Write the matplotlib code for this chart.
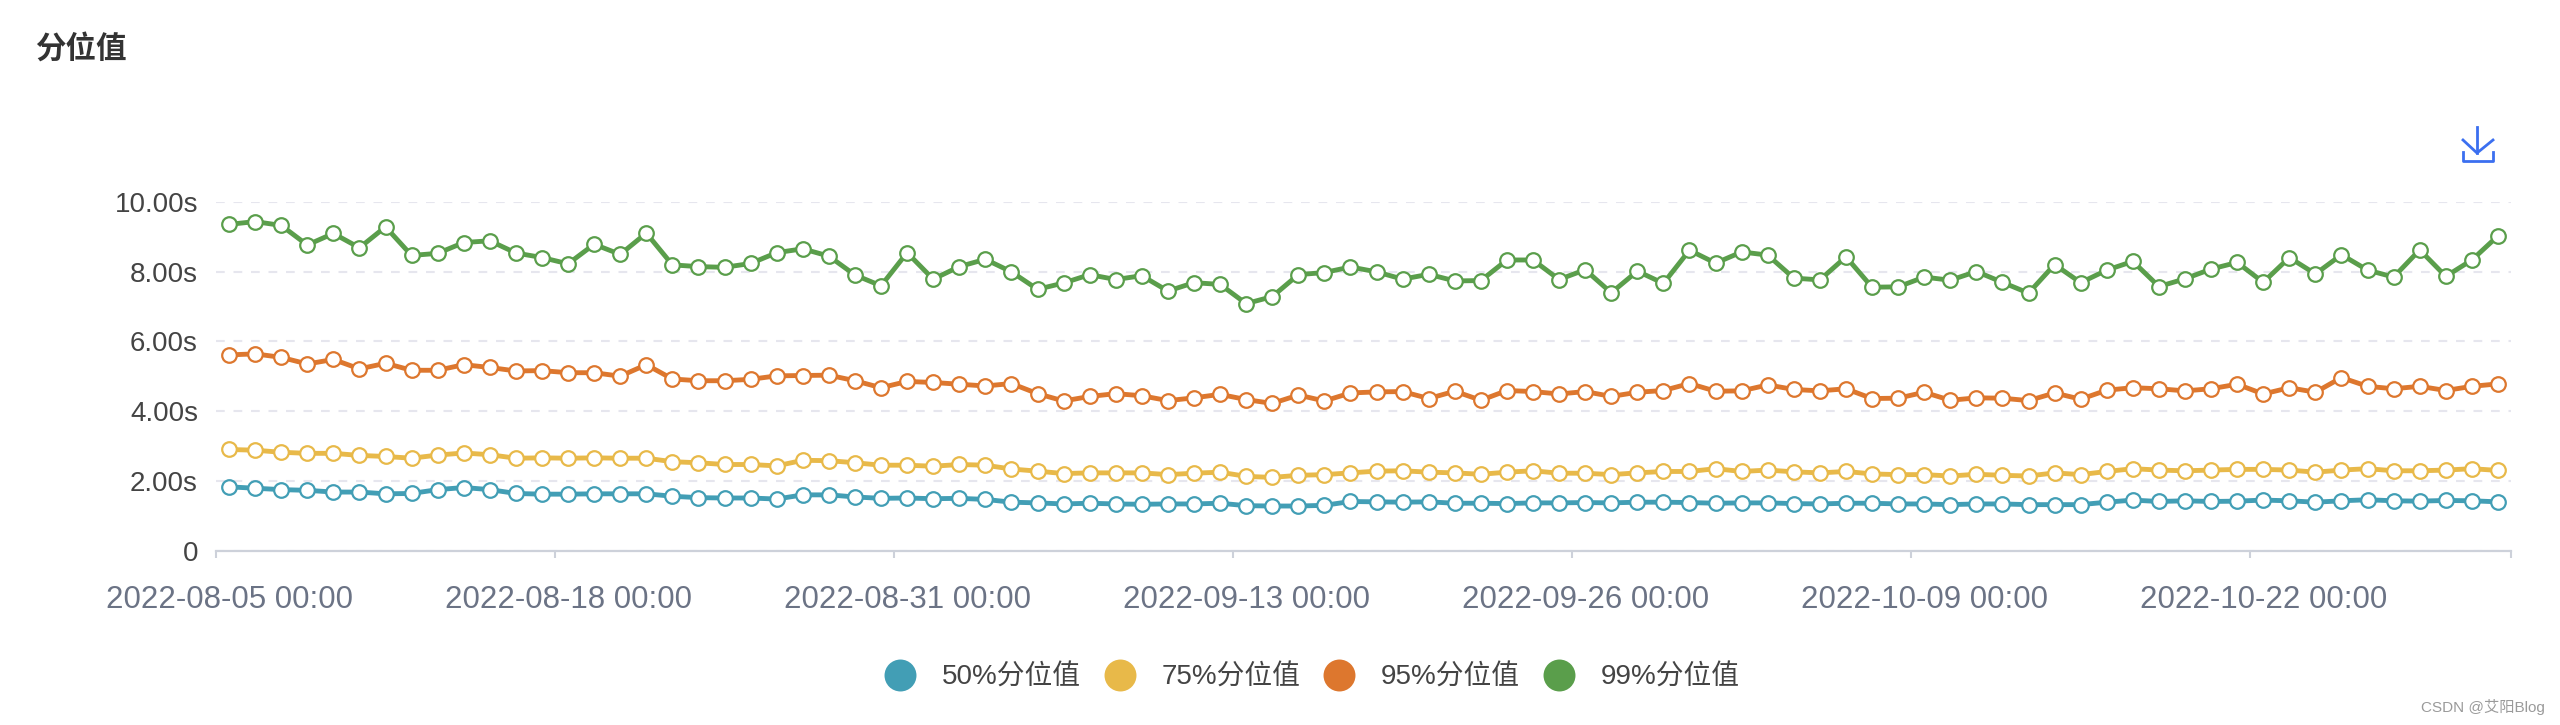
import matplotlib
matplotlib.use("Agg")
import matplotlib.pyplot as plt
import numpy as np
import pandas as pd
from matplotlib.lines import Line2D

plt.rcParams['font.family'] = ['Liberation Sans', 'Noto Sans CJK SC', 'DejaVu Sans']

# Data
dates = pd.date_range("2022-08-05", periods=88, freq="D")
series_names = ["50%分位值", "75%分位值", "95%分位值", "99%分位值"]
y_ticks = [0, 2, 4, 6, 8, 10]
y_labels = ["0", "2.00s", "4.00s", "6.00s", "8.00s", "10.00s"]

p50 = [1.83, 1.79, 1.75, 1.73, 1.68, 1.68, 1.63, 1.64, 1.75, 1.81, 1.75, 1.64, 1.62, 1.62, 1.63, 1.63, 1.63, 1.56, 1.52, 1.51, 1.51, 1.48, 1.60, 1.60,
       1.54, 1.50, 1.51, 1.49, 1.50, 1.47, 1.39, 1.37, 1.34, 1.36, 1.34, 1.33, 1.34, 1.34, 1.36, 1.29, 1.28, 1.28, 1.30, 1.41, 1.40, 1.39, 1.40, 1.36, 1.36, 1.35, 1.37, 1.37, 1.38, 1.37, 1.39, 1.39, 1.38,
       1.36, 1.37, 1.37, 1.35, 1.34, 1.36, 1.36, 1.34, 1.34, 1.32, 1.34, 1.34, 1.32, 1.32, 1.32, 1.39, 1.45, 1.41, 1.43, 1.41, 1.42, 1.45, 1.43, 1.39, 1.43, 1.46, 1.43, 1.42, 1.44, 1.43, 1.40]
p75 = [2.90, 2.88, 2.82, 2.79, 2.79, 2.73, 2.70, 2.65, 2.74, 2.80, 2.75, 2.65, 2.66, 2.65, 2.66, 2.65, 2.65, 2.55, 2.52, 2.47, 2.47, 2.43, 2.59, 2.58,
       2.52, 2.45, 2.45, 2.42, 2.47, 2.45, 2.34, 2.28, 2.21, 2.23, 2.23, 2.23, 2.18, 2.22, 2.25, 2.13, 2.10, 2.16, 2.18, 2.23, 2.28, 2.29, 2.25, 2.23, 2.19, 2.25, 2.29, 2.22, 2.22, 2.18, 2.23, 2.27, 2.27,
       2.35, 2.27, 2.31, 2.26, 2.23, 2.27, 2.20, 2.18, 2.18, 2.14, 2.19, 2.16, 2.14, 2.23, 2.18, 2.27, 2.35, 2.31, 2.29, 2.31, 2.33, 2.33, 2.31, 2.25, 2.31, 2.35, 2.29, 2.29, 2.31, 2.35, 2.30]
p95 = [5.61, 5.64, 5.54, 5.35, 5.48, 5.21, 5.37, 5.17, 5.17, 5.33, 5.25, 5.15, 5.16, 5.10, 5.10, 5.00, 5.33, 4.92, 4.87, 4.87, 4.91, 5.01, 5.02, 5.03,
       4.87, 4.67, 4.85, 4.82, 4.77, 4.72, 4.79, 4.50, 4.29, 4.42, 4.50, 4.44, 4.30, 4.38, 4.48, 4.33, 4.22, 4.46, 4.29, 4.52, 4.55, 4.56, 4.36, 4.57, 4.31, 4.59, 4.56, 4.49, 4.56, 4.42, 4.54, 4.59, 4.79,
       4.57, 4.58, 4.75, 4.62, 4.58, 4.64, 4.36, 4.37, 4.54, 4.31, 4.38, 4.37, 4.30, 4.52, 4.34, 4.60, 4.67, 4.64, 4.58, 4.64, 4.77, 4.49, 4.67, 4.54, 4.96, 4.71, 4.64, 4.71, 4.59, 4.71, 4.78]
p99 = [9.35, 9.43, 9.32, 8.76, 9.09, 8.68, 9.28, 8.46, 8.52, 8.83, 8.88, 8.53, 8.40, 8.22, 8.78, 8.49, 9.10, 8.19, 8.14, 8.12, 8.23, 8.54, 8.65, 8.44,
       7.90, 7.59, 8.54, 7.78, 8.14, 8.35, 7.99, 7.49, 7.67, 7.91, 7.77, 7.88, 7.44, 7.68, 7.63, 7.08, 7.28, 7.91, 7.97, 8.13, 7.99, 7.78, 7.92, 7.73, 7.74, 8.33, 8.33, 7.77, 8.05, 7.39, 8.01, 7.66, 8.61,
       8.24, 8.56, 8.47, 7.81, 7.76, 8.42, 7.55, 7.56, 7.84, 7.75, 8.00, 7.69, 7.38, 8.20, 7.68, 8.04, 8.29, 7.57, 7.79, 8.07, 8.26, 7.69, 8.40, 7.93, 8.48, 8.04, 7.84, 8.62, 7.86, 8.33, 9.02]

colors = ["#429EB5", "#E8B949", "#DD772E", "#5A9E4B"]

W, H = 2560, 725
fig = plt.figure(figsize=(W / 100, H / 100), dpi=100, facecolor="white")
ax = fig.add_axes([216 / W, 1 - 550.7 / H, 2295 / W, 349 / H])

x = np.arange(len(dates))
for vals, c, name in zip([p50, p75, p95, p99], colors, series_names):
    ax.plot(x, vals, color=c, lw=3.5, marker="o", ms=10.5, mfc="white", mec=c, mew=1.6,
            label=name, clip_on=False, zorder=3)

ax.set_xlim(-0.5, len(dates) - 0.5)
ax.set_ylim(0, 10)

# ticks sit on the band edges, labels on the band centres
edges = list(np.arange(-0.5, len(dates), 13)) + [len(dates) - 0.5]
ax.set_xticks(edges)
ax.set_xticklabels([])
ax.set_xticks(x[::13], [d.strftime("%Y-%m-%d %H:%M") for d in dates[::13]], minor=True)
ax.tick_params(axis="x", which="major", length=5, width=1.5, color="#CDD1DA")
ax.tick_params(axis="x", which="minor", length=0, pad=25, labelsize=22.5, labelcolor="#6B7385")
ax.set_yticks(y_ticks, y_labels)
ax.tick_params(axis="y", length=0, pad=13, labelsize=20, labelcolor="#444444")

ax.grid(axis="y", color="#E6E6EE", lw=1.5, dashes=(4.2, 4.2))
ax.set_axisbelow(True)
for s in ["top", "right", "left"]:
    ax.spines[s].set_visible(False)
ax.spines["bottom"].set_color("#CDD1DA")
ax.spines["bottom"].set_linewidth(1.6)

# Legend
handles = [Line2D([], [], ls="", marker="o", ms=23, mfc=c, mec=c, mew=0) for c in colors]
fig.legend(handles, series_names, loc="center", bbox_to_anchor=(1312 / W, 1 - 678 / H), ncol=4,
           frameon=False, fontsize=20, labelcolor="#444444", handlelength=1.15,
           handletextpad=0.93, columnspacing=0.83, borderpad=0, borderaxespad=0)

# Title and watermark
fig.text(35 / W, 1 - 50 / H, "分位值", fontsize=22, fontweight="bold", color="#333333", va="center")
fig.text(2545 / W, 1 - 707 / H, "CSDN @艾阳Blog", fontsize=11, color="#9A9A9A", ha="right", va="center")

# Download icon
icon = "#3B6FF0"
for px, py in [([2477, 2477], [127, 153]),
               ([2463, 2477, 2493], [140, 153, 140]),
               ([2463, 2463, 2493, 2493], [152, 161, 161, 152])]:
    fig.add_artist(Line2D(np.array(px) / W, 1 - np.array(py) / H, color=icon, lw=2.0,
                          transform=fig.transFigure))

fig.savefig("out.png", dpi=100)
